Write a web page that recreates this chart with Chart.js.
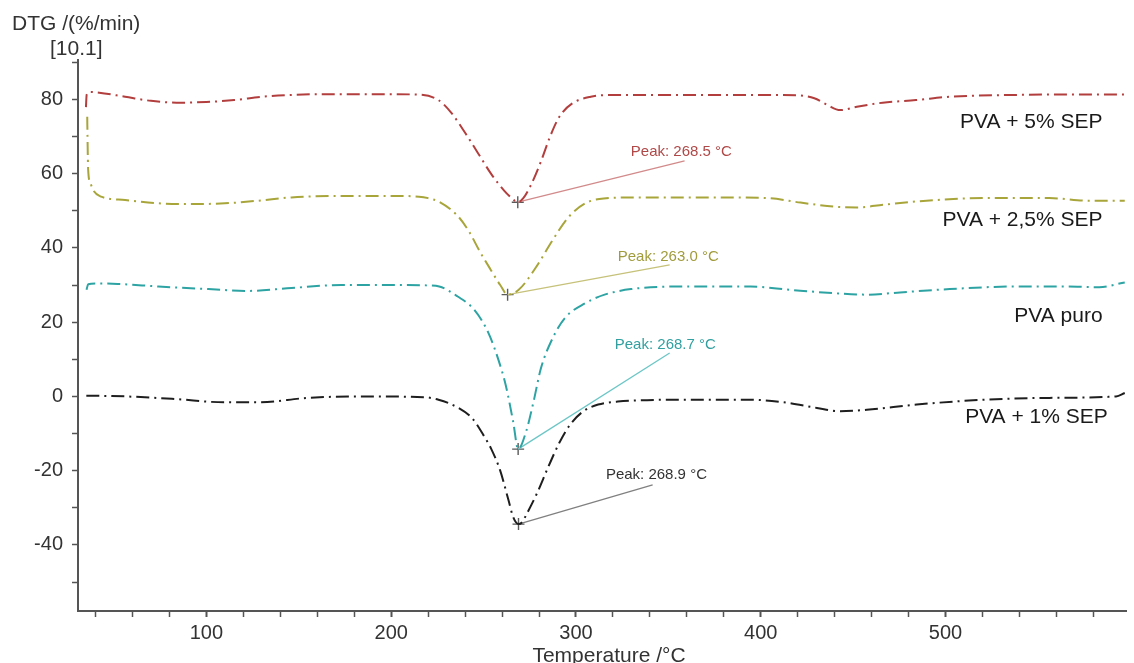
<!DOCTYPE html>
<html>
<head>
<meta charset="utf-8">
<script src="https://cdn.jsdelivr.net/npm/chart.js@4.4.1/dist/chart.umd.min.js"></script>
<style>
  html, body { margin: 0; padding: 0; background: #fff; }
  #wrap { width: 1134px; height: 663px; position: relative; }
</style>
</head>
<body>
<div id="wrap"><canvas id="dtgChart"></canvas></div>
<script>
// PVA + 5% SEP
const sep5Temp = [34.8, 35.2, 37, 42, 56, 70, 86, 100, 115, 130, 146, 164, 190, 214, 225.6, 232.8, 240, 247, 254, 261, 265.5, 268.5, 271.5, 275.5, 281, 286, 291, 298, 308, 322, 358, 394, 420, 429, 436, 443, 452, 466, 484, 502, 538, 574, 597];
const sep5Dtg  = [77.9, 81.3, 82.0, 81.8, 80.7, 79.6, 79.1, 79.3, 79.8, 80.7, 81.2, 81.4, 81.4, 81.3, 79.8, 76.2, 71.0, 65.5, 60.0, 55.5, 53.3, 52.3, 53.4, 56.8, 63.2, 70.0, 75.3, 78.9, 80.7, 81.2, 81.2, 81.2, 81.1, 80.3, 78.5, 77.1, 78.0, 79.1, 79.8, 80.7, 81.2, 81.3, 81.3];

// PVA + 2,5% SEP
const sep25Temp = [35.5, 35.7, 36, 37.2, 39, 43, 56, 74, 92, 110, 128, 146, 173, 200, 215, 220, 226, 236, 242, 248, 254, 259, 263, 269, 278, 287, 296, 305, 315, 331.6, 376.5, 403.5, 421.5, 439.5, 452, 466.4, 484.4, 520.3, 556.2, 577.8, 597];
const sep25Dtg  = [75.3, 68.0, 61.0, 57.5, 55.3, 53.8, 52.9, 52.0, 51.8, 52.0, 52.7, 53.6, 54.0, 54.0, 53.8, 53.4, 52.4, 48.6, 44.5, 39.0, 34.0, 30.0, 27.4, 28.7, 34.5, 41.8, 48.3, 52.0, 53.3, 53.6, 53.6, 53.4, 52.2, 51.1, 50.9, 51.6, 52.5, 53.4, 53.4, 52.7, 52.7];

// PVA puro
const pureTemp = [35.1, 36, 40, 52, 74, 101, 122, 146, 173, 208, 219, 226, 236, 245, 252.6, 258, 262, 266, 268.7, 273, 277, 281, 287, 294, 305, 315.5, 329.8, 358.6, 394.5, 416, 439.5, 457.4, 475.4, 502.3, 538.3, 565.3, 583.2, 597];
const pureDtg  = [28.7, 30.2, 30.4, 30.3, 29.6, 28.9, 28.4, 29.2, 30.0, 30.0, 29.9, 29.6, 26.9, 23.3, 17.1, 9.9, 3.0, -6.8, -14.2, -9.5, -1.5, 7.5, 15.3, 21.1, 25.1, 27.4, 28.9, 29.6, 29.6, 28.7, 27.8, 27.4, 28.0, 28.9, 29.6, 29.6, 29.4, 30.7];

// PVA + 1% SEP
const sep1Temp = [35, 56, 83, 110, 128, 155, 182, 217.5, 225.6, 236, 244, 250, 254, 259, 263.5, 266, 268.9, 271, 273, 279, 285, 291, 297, 304, 312, 322.6, 358.6, 394.5, 412.5, 430.4, 443, 457.4, 484.4, 520.3, 556.2, 592.3, 597];
const sep1Dtg  = [0.2, 0, -0.7, -1.6, -1.6, -0.4, 0, -0.2, -0.9, -3.0, -6.0, -10.5, -14.0, -20.0, -28.0, -32.5, -34.4, -33.8, -32.0, -26.0, -19.0, -12.5, -7.5, -4.0, -2.2, -1.4, -0.9, -0.9, -1.6, -3.1, -4.0, -3.6, -2.2, -0.9, -0.4, 0, 0.9];

const seriesNames = ['PVA + 5% SEP', 'PVA + 2,5% SEP', 'PVA puro', 'PVA + 1% SEP'];
const peakTemp = [268.5, 263.0, 268.7, 268.9];
const peakDtg  = [52.3, 27.4, -14.2, -34.4];
const peakText = ['Peak: 268.5 °C', 'Peak: 263.0 °C', 'Peak: 268.7 °C', 'Peak: 268.9 °C'];

const xTicksMajor = [100, 200, 300, 400, 500];
const yTicksMajor = [-40, -20, 0, 20, 40, 60, 80];

// styling / placement (data units)
const lineColors  = ['#b23e3e', '#a8a53a', '#2ea3a3', '#1e1e1e'];
const textColors  = ['#b04848', '#a09c3c', '#32a0a0', '#333333'];
const leadColors  = ['#d28a8a', '#c6c27a', '#6cc6c6', '#808080'];
const leadEnd     = [[358.8, 63.4], [350.7, 35.4], [350.7, 11.7], [341.5, -23.8]];
const peakTextPos = [[329.7, 65.8], [322.6, 37.7], [321.0, 13.9], [316.2, -21.1]];
const nameTextPos = [[585.0, 73.8], [585.0, 47.5], [585.0, 21.7], [587.8, -5.7]];

const FONT = '"Liberation Sans", Arial, sans-serif';
const toPoints = (xs, ys) => xs.map((t, i) => ({ x: t, y: ys[i] }));

const curves = [
    toPoints(sep5Temp, sep5Dtg),
    toPoints(sep25Temp, sep25Dtg),
    toPoints(pureTemp, pureDtg),
    toPoints(sep1Temp, sep1Dtg)
];

const datasets = [];
curves.forEach((pts, i) => {
    datasets.push({
        label: seriesNames[i],
        data: pts,
        borderColor: lineColors[i],
        borderWidth: 2,
        borderDash: [13, 5, 2, 5],
        pointRadius: 0,
        cubicInterpolationMode: 'monotone',
        fill: false
    });
});
peakTemp.forEach((t, i) => {
    datasets.push({
        label: 'lead' + i,
        data: [{ x: t, y: peakDtg[i] }, { x: leadEnd[i][0], y: leadEnd[i][1] }],
        borderColor: leadColors[i],
        borderWidth: 1.3,
        pointRadius: 0,
        tension: 0
    });
});
datasets.push({
    type: 'scatter',
    label: 'peaks',
    data: toPoints(peakTemp, peakDtg),
    pointStyle: 'cross',
    pointRadius: 6,
    borderColor: '#5a5a5a',
    borderWidth: 1.4,
    showLine: false
});

const textPlugin = {
    id: 'dtgText',
    afterDatasetsDraw(chart) {
        const { ctx, scales: { x, y } } = chart;
        ctx.save();
        // axis titles
        ctx.fillStyle = '#333';
        ctx.font = '21px ' + FONT;
        ctx.textBaseline = 'middle';
        ctx.textAlign = 'left';
        ctx.fillText('DTG /(%/min)', 12, 24);
        ctx.fillText('[10.1]', 50, 49);
        ctx.textAlign = 'center';
        ctx.textBaseline = 'alphabetic';
        ctx.fillText('Temperature /°C', 609, 662);

        // peak labels
        ctx.font = '15px ' + FONT;
        ctx.textAlign = 'left';
        ctx.textBaseline = 'middle';
        peakText.forEach((txt, i) => {
            ctx.fillStyle = textColors[i];
            ctx.fillText(txt, x.getPixelForValue(peakTextPos[i][0]), y.getPixelForValue(peakTextPos[i][1]));
        });

        // series names
        ctx.font = '21px ' + FONT;
        ctx.textAlign = 'right';
        ctx.fillStyle = '#1a1a1a';
        seriesNames.forEach((name, i) => {
            ctx.fillText(name, x.getPixelForValue(nameTextPos[i][0]), y.getPixelForValue(nameTextPos[i][1]));
        });
        ctx.restore();
    }
};

const ctx = document.getElementById('dtgChart').getContext('2d');
const chart = new Chart(ctx, {
    type: 'line',
    data: { datasets },
    options: {
        responsive: true,
        maintainAspectRatio: false,
        animation: false,
        events: [],
        layout: { padding: { top: 60, left: 0, right: 3, bottom: 0 } },
        plugins: {
            legend: { display: false },
            tooltip: { enabled: false }
        },
        scales: {
            x: {
                type: 'linear',
                min: 30.5,
                max: 598,
                ticks: {
                    stepSize: 20,
                    includeBounds: false,
                    autoSkip: false,
                    maxRotation: 0,
                    padding: 4,
                    color: '#333',
                    font: { size: 20, family: FONT },
                    callback: v => xTicksMajor.includes(v) ? String(v) : ''
                },
                grid: {
                    drawOnChartArea: false,
                    drawTicks: true,
                    tickLength: 6,
                    tickColor: '#555',
                    tickWidth: c => xTicksMajor.includes(c.tick && c.tick.value) ? 2 : 1.5
                },
                border: { color: '#555', width: 2 },
                afterFit: s => { s.height = 52; }
            },
            y: {
                type: 'linear',
                min: -57.8,
                max: 90.6,
                ticks: {
                    stepSize: 10,
                    includeBounds: false,
                    autoSkip: false,
                    padding: 9,
                    color: '#333',
                    font: { size: 20, family: FONT },
                    callback: v => yTicksMajor.includes(v) ? String(v) : ''
                },
                grid: {
                    drawOnChartArea: false,
                    drawTicks: true,
                    tickLength: 6,
                    tickColor: '#555',
                    tickWidth: 1.5
                },
                border: { color: '#555', width: 2 },
                afterFit: s => { s.width = 78; }
            }
        }
    },
    plugins: [textPlugin]
});
</script>
</body>
</html>
